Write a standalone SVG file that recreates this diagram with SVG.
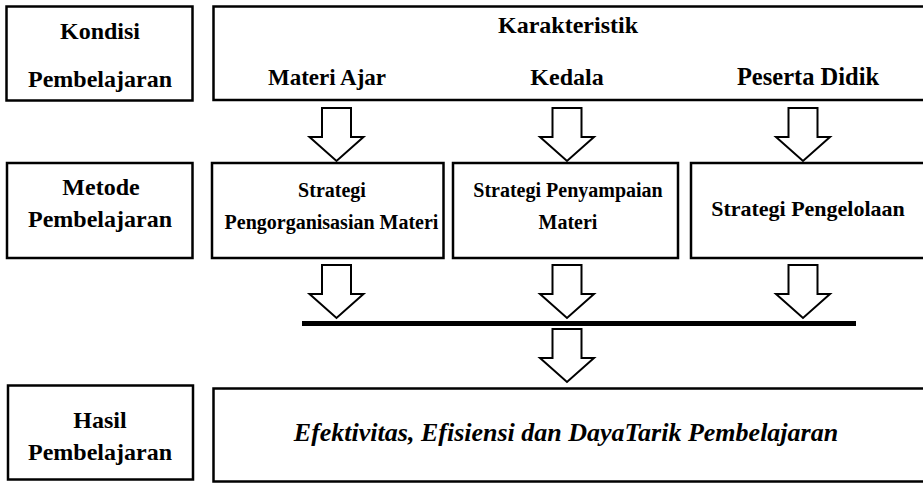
<svg xmlns="http://www.w3.org/2000/svg" width="923" height="483" viewBox="0 0 923 483">
<style>
.box{fill:#fff;stroke:#000;stroke-width:2.5}
.arr{fill:#fff;stroke:#000;stroke-width:2;stroke-linejoin:miter}
.bar{stroke:#000;stroke-width:5}
</style>
<defs>
<polygon id="dn" points="-14.5,0 14.5,0 14.5,29 27,29 0,53 -27,29 -14.5,29"/>
</defs>
<rect width="923" height="483" fill="#fff"/>
<g id="kondisi">
<rect class="box" x="6.5" y="6.5" width="186" height="94"/>
<text x="100" y="39" font-family="Liberation Serif" font-size="24" font-weight="bold" text-anchor="middle">Kondisi</text>
<text x="100" y="87" font-family="Liberation Serif" font-size="24" font-weight="bold" text-anchor="middle">Pembelajaran</text>
</g>
<g id="karakteristik">
<rect class="box" x="213.5" y="6.5" width="720" height="93.5"/>
<text x="568" y="33" font-family="Liberation Serif" font-size="24" font-weight="bold" text-anchor="middle">Karakteristik</text>
<text x="327" y="85" font-family="Liberation Serif" font-size="23" font-weight="bold" text-anchor="middle">Materi Ajar</text>
<text x="567" y="85" font-family="Liberation Serif" font-size="24" font-weight="bold" text-anchor="middle">Kedala</text>
<text x="808" y="85" font-family="Liberation Serif" font-size="24.5" font-weight="bold" text-anchor="middle">Peserta Didik</text>
</g>
<g id="metode">
<rect class="box" x="7" y="163" width="185.5" height="95"/>
<text x="101" y="195" font-family="Liberation Serif" font-size="24" font-weight="bold" text-anchor="middle">Metode</text>
<text x="100" y="227" font-family="Liberation Serif" font-size="24" font-weight="bold" text-anchor="middle">Pembelajaran</text>
</g>
<g id="strategi-pengorganisasian">
<rect class="box" x="212" y="163" width="231.5" height="95"/>
<text x="332" y="197" font-family="Liberation Serif" font-size="20" font-weight="bold" text-anchor="middle">Strategi</text>
<text x="331.5" y="229" font-family="Liberation Serif" font-size="20" font-weight="bold" text-anchor="middle">Pengorganisasian Materi</text>
</g>
<g id="strategi-penyampaian">
<rect class="box" x="453" y="163" width="225" height="95"/>
<text x="568" y="197" font-family="Liberation Serif" font-size="20" font-weight="bold" text-anchor="middle">Strategi Penyampaian</text>
<text x="568" y="229" font-family="Liberation Serif" font-size="20" font-weight="bold" text-anchor="middle">Materi</text>
</g>
<g id="strategi-pengelolaan">
<rect class="box" x="691" y="163" width="240" height="95"/>
<text x="808" y="216" font-family="Liberation Serif" font-size="22" font-weight="bold" text-anchor="middle">Strategi Pengelolaan</text>
</g>
<g id="hasil">
<rect class="box" x="8" y="385.5" width="185" height="94"/>
<text x="100" y="428" font-family="Liberation Serif" font-size="24" font-weight="bold" text-anchor="middle">Hasil</text>
<text x="100" y="460" font-family="Liberation Serif" font-size="24" font-weight="bold" text-anchor="middle">Pembelajaran</text>
</g>
<g id="efektivitas">
<rect class="box" x="213.5" y="388.5" width="720" height="93"/>
<text x="566" y="441" font-family="Liberation Serif" font-size="26" font-weight="bold" font-style="italic" text-anchor="middle">Efektivitas, Efisiensi dan DayaTarik Pembelajaran</text>
</g>
<g id="connectors">
<use href="#dn" class="arr" x="336.5" y="108"/>
<use href="#dn" class="arr" x="567" y="108"/>
<use href="#dn" class="arr" x="803" y="108"/>
<use href="#dn" class="arr" x="336.5" y="265"/>
<use href="#dn" class="arr" x="567" y="265"/>
<use href="#dn" class="arr" x="803" y="265"/>
<line class="bar" x1="302" y1="323.5" x2="856" y2="323.5"/>
<use href="#dn" class="arr" x="567" y="329"/>
</g>
</svg>
